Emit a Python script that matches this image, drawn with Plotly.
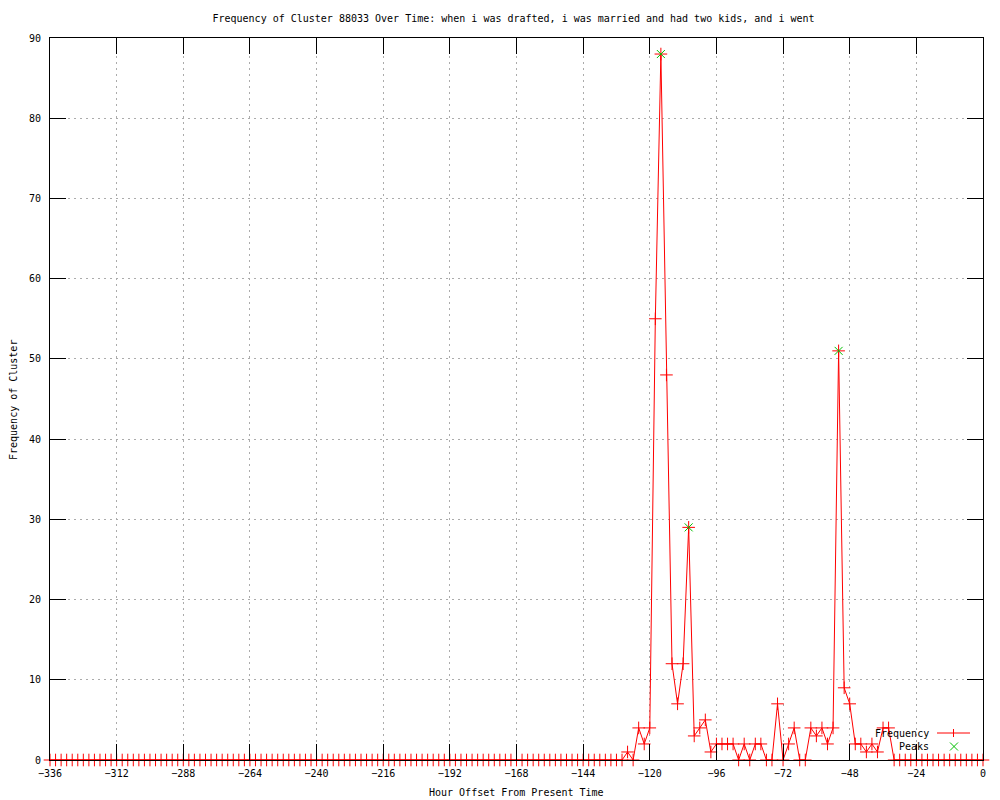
import plotly.graph_objects as go

# ---- data ----
hours = list(range(-336, 1, 2))
frequency = (
    [0] * 104
    + [1, 0, 4, 2, 4, 55, 88, 48, 12, 7,
       12, 29, 3, 4, 5, 1, 2, 2, 2, 2,
       0, 2, 0, 2, 2, 0, 0, 7, 0, 2,
       4, 0, 0, 4, 3, 4, 2, 4, 51, 9,
       7, 2, 2, 1, 2, 1, 4, 4, 0]
    + [0] * 16
)
peak_hours = [-116, -106, -52]
peak_values = [88, 29, 51]
x_ticks = list(range(-336, 1, 24))
y_ticks = list(range(0, 91, 10))

title_text = "Frequency of Cluster 88033 Over Time: when i was drafted, i was married and had two kids, and i went"
FONT = "DejaVu Sans Mono"
FS = 10
RED = "#ff0000"
GREEN = "#00c000"

fig = go.Figure()
fig.add_trace(go.Scatter(
    x=hours, y=frequency, mode="lines+markers", name="Frequency",
    line=dict(color=RED, width=1),
    marker=dict(symbol="cross-thin-open", size=9, line=dict(color=RED, width=1), color=RED),
    cliponaxis=False, showlegend=False,
))
fig.add_trace(go.Scatter(
    x=peak_hours, y=peak_values, mode="markers", name="Peaks",
    marker=dict(symbol="x-thin-open", size=8, line=dict(color=GREEN, width=1), color=GREEN),
    cliponaxis=False, showlegend=False,
))

axis_common = dict(
    showline=True, linecolor="black", linewidth=1, mirror="ticks",
    ticks="inside", ticklen=16, tickwidth=1, tickcolor="black",
    showgrid=True, gridcolor="#ababab", gridwidth=1, griddash="2px,4px",
    zeroline=False, tickfont=dict(family=FONT, size=FS, color="black"),
)

fig.update_xaxes(range=[-336, 0], tickvals=x_ticks, ticklabelstandoff=4, **axis_common)
fig.update_yaxes(range=[0, 90], tickvals=y_ticks, ticklabelstandoff=6, **axis_common)

# manual gnuplot-style key (text left of sample)
def px2paper_x(px):
    return (px - 50) / 933.0

def px2paper_y(py):
    return (760 - py) / 722.0

shapes = []
annotations = []
for label, py in [("Frequency", 733), ("Peaks", 746.5)]:
    annotations.append(dict(
        x=px2paper_x(931), y=px2paper_y(py), xref="paper", yref="paper",
        text=label, showarrow=False, xanchor="right", yanchor="middle",
        font=dict(family=FONT, size=FS, color="black"),
    ))
# Frequency sample line with + marker
shapes.append(dict(type="line", xref="paper", yref="paper",
                   x0=px2paper_x(937), x1=px2paper_x(970), y0=px2paper_y(733), y1=px2paper_y(733),
                   line=dict(color=RED, width=1)))
shapes.append(dict(type="line", xref="paper", yref="paper", xsizemode="pixel", xanchor=px2paper_x(953.5),
                   x0=0, x1=0, ysizemode="pixel", yanchor=px2paper_y(733), y0=-4, y1=4,
                   line=dict(color=RED, width=1)))
# Peaks sample: green x
for d in (1, -1):
    shapes.append(dict(type="line", xref="paper", yref="paper", xsizemode="pixel", xanchor=px2paper_x(954),
                       x0=-4, x1=4, ysizemode="pixel", yanchor=px2paper_y(746.5), y0=-4 * d, y1=4 * d,
                       line=dict(color=GREEN, width=1)))

# axis titles
annotations.append(dict(x=px2paper_x(516), y=px2paper_y(793), xref="paper", yref="paper",
                        text="Hour Offset From Present Time", showarrow=False,
                        xanchor="center", yanchor="middle",
                        font=dict(family=FONT, size=FS, color="black")))
annotations.append(dict(x=px2paper_x(13), y=px2paper_y(400), xref="paper", yref="paper",
                        text="Frequency of Cluster", textangle=-90, showarrow=False,
                        xanchor="center", yanchor="middle",
                        font=dict(family=FONT, size=FS, color="black")))

fig.update_layout(
    width=1000, height=800,
    margin=dict(l=50, r=17, t=38, b=40, autoexpand=False),
    paper_bgcolor="white", plot_bgcolor="white",
    title=dict(text=title_text, x=0.5135, xref="container", xanchor="center",
               y=1 - 18 / 800, yref="container", yanchor="middle",
               font=dict(family=FONT, size=FS, color="black")),
    shapes=shapes, annotations=annotations,
    showlegend=False,
)

fig.write_html("out.html", config={"displayModeBar": False},
               post_script="document.body.style.margin='0';document.body.style.overflow='hidden';")
